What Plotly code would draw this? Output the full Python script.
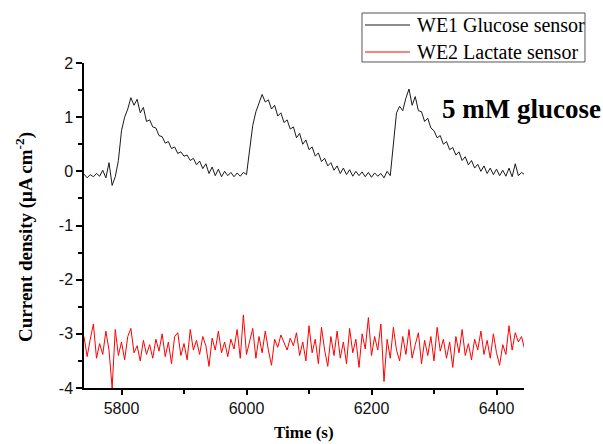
import plotly.graph_objects as go

time_s = [
    5740, 5745, 5750, 5755, 5760, 5765, 5770, 5775, 5780, 5785,
    5790, 5795, 5800, 5805, 5810, 5815, 5820, 5825, 5830, 5835,
    5840, 5845, 5850, 5855, 5860, 5865, 5870, 5875, 5880, 5885,
    5890, 5895, 5900, 5905, 5910, 5915, 5920, 5925, 5930, 5935,
    5940, 5945, 5950, 5955, 5960, 5965, 5970, 5975, 5980, 5985,
    5990, 5995, 6000, 6005, 6010, 6015, 6020, 6025, 6030, 6035,
    6040, 6045, 6050, 6055, 6060, 6065, 6070, 6075, 6080, 6085,
    6090, 6095, 6100, 6105, 6110, 6115, 6120, 6125, 6130, 6135,
    6140, 6145, 6150, 6155, 6160, 6165, 6170, 6175, 6180, 6185,
    6190, 6195, 6200, 6205, 6210, 6215, 6220, 6225, 6230, 6235,
    6240, 6245, 6250, 6255, 6260, 6265, 6270, 6275, 6280, 6285,
    6290, 6295, 6300, 6305, 6310, 6315, 6320, 6325, 6330, 6335,
    6340, 6345, 6350, 6355, 6360, 6365, 6370, 6375, 6380, 6385,
    6390, 6395, 6400, 6405, 6410, 6415, 6420, 6425, 6430, 6435,
    6440, 6445,
]

we1_glucose = [
    -0.05, -0.12, -0.06, -0.10, -0.04, -0.09, 0.02, -0.12, 0.16, -0.26,
    -0.10, 0.20, 0.75, 1.00, 1.15, 1.36, 1.22, 1.33, 1.08, 1.18,
    0.92, 0.95, 0.82, 0.80, 0.66, 0.64, 0.52, 0.55, 0.42, 0.45,
    0.33, 0.36, 0.28, 0.30, 0.20, 0.24, 0.12, 0.19, 0.05, 0.14,
    -0.04, 0.08, -0.08, 0.04, -0.10, 0.00, -0.08, -0.02, -0.10, -0.03,
    -0.09, -0.02, -0.06, 0.45, 0.85, 1.10, 1.25, 1.42, 1.28, 1.32,
    1.15, 1.22, 1.02, 1.08, 0.90, 0.95, 0.78, 0.82, 0.62, 0.70,
    0.50, 0.58, 0.40, 0.45, 0.28, 0.34, 0.18, 0.24, 0.10, 0.16,
    0.02, 0.10, -0.04, 0.06, -0.06, 0.03, -0.09, 0.00, -0.08, -0.01,
    -0.10, -0.02, -0.11, -0.03, -0.09, -0.04, -0.12, 0.00, -0.08, 0.45,
    1.08, 1.20, 1.12, 1.35, 1.52, 1.22, 1.38, 1.12, 1.10, 0.92,
    0.98, 0.80, 0.75, 0.62, 0.66, 0.50, 0.55, 0.40, 0.44, 0.30,
    0.36, 0.20, 0.27, 0.12, 0.20, 0.06, 0.13, 0.00, 0.10, -0.04,
    0.06, -0.06, 0.04, -0.08, 0.02, -0.09, 0.06, -0.10, 0.14, -0.08,
    -0.02, -0.06,
]

we2_lactate = [
    -3.05, -3.42, -3.10, -2.82, -3.45, -3.18, -3.38, -2.95, -3.30, -4.00,
    -2.92, -3.40, -3.15, -3.48, -3.05, -2.90, -3.35, -3.22, -3.50, -3.12,
    -3.38, -3.20, -3.45, -3.10, -3.32, -3.00, -3.42, -3.15, -3.55, -3.05,
    -2.98, -3.40, -3.18, -3.48, -2.92, -3.30, -3.12, -3.38, -3.05, -3.22,
    -3.60, -3.08, -3.30, -2.95, -3.35, -3.15, -3.42, -3.10, -3.28, -2.92,
    -3.45, -2.65, -3.38, -3.12, -2.90, -3.45, -3.05, -3.35, -2.95, -3.30,
    -3.58, -3.10, -3.25, -3.02, -3.15, -3.30, -3.08, -3.22, -2.98, -3.40,
    -3.15, -3.50, -2.85, -3.35, -3.10, -3.55, -2.88, -3.30, -3.60, -3.05,
    -3.40, -2.95, -3.45, -3.15, -3.55, -2.90, -3.35, -3.10, -3.62, -3.00,
    -3.28, -2.70, -3.40, -3.05, -3.30, -2.82, -3.88, -3.10, -3.45, -2.88,
    -3.30, -3.50, -3.05, -3.38, -2.92, -3.45, -3.20, -2.98, -3.55, -3.12,
    -3.40, -3.05, -3.50, -2.88, -3.32, -3.10, -3.45, -3.15, -3.62, -3.05,
    -3.35, -2.92, -3.40, -3.18, -3.48, -3.10, -3.30, -2.95, -3.38, -3.12,
    -3.45, -3.00, -3.35, -3.58, -3.20, -3.38, -2.85, -3.30, -2.98, -3.15,
    -3.05, -3.28,
]

series_names = ["WE1 Glucose sensor", "WE2 Lactate sensor"]
series_colors = ["#1a1a1a", "#ff0000"]

x_ticks = [5800, 6000, 6200, 6400]
x_tick_labels = ["5800", "6000", "6200", "6400"]
y_ticks = [2, 1, 0, -1, -2, -3, -4]
y_tick_labels = ["2", "1", "0", "-1", "-2", "-3", "-4"]

serif = "Liberation Serif, Times New Roman, serif"
sans = "Liberation Sans, Arial, sans-serif"

fig = go.Figure()
for name, color, ys in zip(series_names, series_colors,
                           [we1_glucose, we2_lactate]):
    fig.add_trace(go.Scatter(x=time_s, y=ys, mode="lines", name=name,
                             line=dict(color=color, width=1),
                             showlegend=False))

fig.update_layout(
    width=603, height=444,
    margin=dict(l=84, r=79, t=63, b=56),
    plot_bgcolor="white", paper_bgcolor="white",
    showlegend=False,
    xaxis=dict(range=[5740, 6444], tickvals=x_ticks, ticktext=x_tick_labels,
               showline=True, linecolor="black", linewidth=1.5,
               ticks="outside", ticklen=5, tickwidth=1.5, tickcolor="black",
               showgrid=False, zeroline=False,
               tickfont=dict(family=sans, size=16, color="#111111"),
               minor=dict(dtick=100, tick0=5800, ticks="outside", ticklen=4,
                          tickwidth=1.5, tickcolor="black", showgrid=False)),
    yaxis=dict(range=[-4, 2], tickvals=y_ticks, ticktext=y_tick_labels,
               showline=True, linecolor="black", linewidth=1.5,
               ticks="outside", ticklen=6, tickwidth=1.5, tickcolor="black",
               showgrid=False, zeroline=False,
               tickfont=dict(family=sans, size=16, color="#111111"),
               minor=dict(dtick=0.5, tick0=0, ticks="outside", ticklen=4,
                          tickwidth=1.5, tickcolor="black", showgrid=False)),
)

# Legend box drawn in paper coordinates (top-right, outside plot area)
fig.add_shape(type="rect", xref="paper", yref="paper",
              x0=0.6318, x1=1.1386, y0=1.0031, y1=1.1538,
              line=dict(color="#555555", width=1), fillcolor="white",
              layer="above")
legend_rows_y = [1.1169, 1.0338]
for name, color, ly in zip(series_names, series_colors, legend_rows_y):
    fig.add_shape(type="line", xref="paper", yref="paper",
                  x0=0.6386, x1=0.7409, y0=ly, y1=ly,
                  line=dict(color=color, width=1), layer="above")
    fig.add_annotation(text=name, x=0.7523, y=ly, xref="paper", yref="paper",
                       xanchor="left", yanchor="middle", showarrow=False,
                       font=dict(family=serif, size=20, color="black"))

fig.add_annotation(text="<b>5 mM glucose</b>", x=6310, y=1.16,
                   xref="x", yref="y", xanchor="left", yanchor="middle",
                   showarrow=False,
                   font=dict(family=serif, size=27, color="black"))
fig.add_annotation(text="<b>Current density (μA cm<sup>-2</sup>)</b>",
                   x=-0.134, y=0.465, xref="paper", yref="paper",
                   xanchor="center", yanchor="middle", textangle=-90,
                   showarrow=False,
                   font=dict(family=serif, size=19, color="black"))
fig.add_annotation(text="<b>Time (s)</b>", x=0.5, y=-44 / 325,
                   xref="paper", yref="paper", xanchor="center",
                   yanchor="middle", showarrow=False,
                   font=dict(family=serif, size=17, color="black"))

fig.write_html("out.html",
               config={"displayModeBar": False},
               post_script="document.body.style.margin='0px';"
                           "document.body.style.overflow='hidden';")
